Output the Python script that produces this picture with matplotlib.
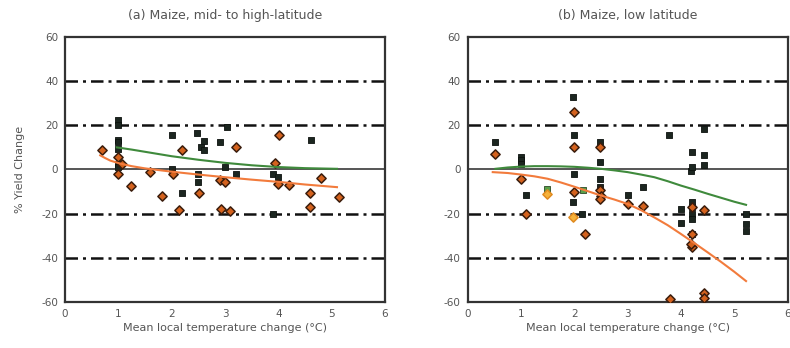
import matplotlib
matplotlib.use("Agg")
import matplotlib.pyplot as plt

plt.rcParams["axes.unicode_minus"] = False

# ---------------- Panel (a) data ----------------
a_sq_x = [0.99, 0.99, 1.0, 1.0, 1.0, 1.0, 1.0, 2.0, 2.0, 2.2, 2.48, 2.55, 2.6, 2.6, 2.5, 2.5,
          2.9, 3.03, 3.0, 3.2, 3.9, 4.0, 3.9, 4.62]
a_sq_y = [22.3, 20.0, 13.5, 12.4, 9.4, 2.6, 1.0, 15.5, 0.3, -10.8, 16.7, 10.0, 8.6, 13.0, -2.0, -5.8,
          12.4, 19.2, 1.0, -2.0, -2.0, -3.5, -20.0, 13.2]
a_di_x = [0.69, 1.0, 1.0, 1.07, 1.23, 1.6, 1.82, 2.03, 2.14, 2.2, 2.52, 2.9, 3.0, 2.92, 3.1, 3.2,
          3.93, 4.02, 4.0, 4.2, 4.6, 4.6, 4.8, 5.13]
a_di_y = [9.0, 5.6, -2.0, 2.6, -7.3, -1.2, -11.8, -2.0, -18.3, 8.6, -10.8, -4.7, -5.8, -17.9, -19.0, 10.1,
          2.9, 15.5, -6.5, -6.8, -10.8, -17.0, -3.8, -12.6]
a_green_x = [0.97, 1.25, 1.5, 1.75, 2.0, 2.5, 3.0, 3.5, 4.0, 4.5, 5.1]
a_green_y = [10.0, 9.0, 8.0, 7.0, 6.0, 4.4, 3.0, 1.9, 1.1, 0.6, 0.3]
a_orange_x = [0.66, 0.75, 0.85, 1.03, 1.25, 1.5, 2.0, 2.5, 3.0, 3.5, 4.0, 4.5, 5.1]
a_orange_y = [6.4, 5.2, 4.0, 2.7, 1.5, 0.5, -1.0, -2.3, -3.5, -4.6, -5.6, -6.8, -8.0]

# ---------------- Panel (b) data ----------------
b_sq_x = [0.52, 1.0, 1.0, 1.0, 1.1, 1.97, 2.0, 2.0, 1.98, 2.14, 2.48, 2.48, 2.48, 2.48,
          3.0, 3.28, 3.77, 4.0, 4.0, 4.21, 4.18, 4.2, 4.2, 4.2, 4.2, 4.2, 4.2, 4.43, 4.43, 4.43,
          5.22, 5.22, 5.22]
b_sq_y = [12.4, 5.6, 4.1, 2.6, -11.5, 32.9, 15.5, -2.0, -14.8, -20.0, 12.4, 3.3, -4.2, -8.0,
          -11.5, -8.0, 15.5, -17.9, -24.0, 7.9, -0.5, 1.0, -14.8, -17.0, -20.0, -22.4, -29.0, 18.5, 6.4, 1.8,
          -20.0, -24.7, -27.7]
b_di_x = [0.52, 1.0, 1.1, 2.0, 2.0, 2.0, 2.2, 2.48, 2.48, 2.5, 2.48, 3.0, 3.28, 3.8,
          4.2, 4.2, 4.18, 4.43, 4.43, 4.43, 4.2]
b_di_y = [6.8, -4.5, -20.0, 26.0, 10.2, -10.3, -29.2, 10.2, -9.5, -11.8, -13.3, -15.6, -16.7, -58.5,
          -29.2, -35.3, -33.8, -18.3, -55.8, -58.0, -17.0]
b_yel_x = [1.48, 1.97]
b_yel_y = [-11.0, -21.4]
b_gsq_x = [1.49, 2.16]
b_gsq_y = [-8.8, -9.5]
b_green_x = [0.52, 0.75, 1.0, 1.25, 1.5, 1.75, 2.0, 2.25, 2.5, 2.75, 3.0, 3.25, 3.5, 3.75,
             4.0, 4.25, 4.5, 4.75, 5.0, 5.22]
b_green_y = [0.3, 0.9, 1.3, 1.5, 1.5, 1.4, 1.2, 0.8, 0.3, -0.4, -1.2, -2.3, -3.5, -5.3,
             -7.3, -9.1, -11.0, -12.8, -14.6, -16.0]
b_orange_x = [0.47, 0.75, 1.0, 1.25, 1.5, 1.75, 2.0, 2.25, 2.5, 2.75, 3.0, 3.25, 3.5, 3.75,
              4.0, 4.25, 4.5, 4.75, 5.0, 5.22]
b_orange_y = [-1.2, -1.6, -2.3, -3.1, -4.2, -5.9, -7.8, -9.8, -11.8, -13.6, -15.6, -18.4, -21.7, -25.2,
              -29.2, -33.3, -37.5, -41.8, -46.3, -50.5]

xticks = [0, 1, 2, 3, 4, 5, 6]
yticks = [-60, -40, -20, 0, 20, 40, 60]
titles = ["(a) Maize, mid- to high-latitude", "(b) Maize, low latitude"]
xlabel = "Mean local temperature change (\u00b0C)"
ylabel = "% Yield Change"

SQ_C = "#1c2620"
OR_C = "#d4621e"
OR_E = "#3a1c0c"
GREEN = "#3f8a3c"
ORANGE = "#f27b3c"
TXT = "#555555"

fig = plt.figure(figsize=(7.9, 3.48), dpi=100)
ax_a = fig.add_axes([0.0823, 0.132, 0.405, 0.762])
ax_b = fig.add_axes([0.592, 0.132, 0.405, 0.762])


def style(ax, title):
    ax.set_xlim(0, 6)
    ax.set_ylim(-60, 60)
    ax.set_xticks(xticks)
    ax.set_yticks(yticks)
    ax.tick_params(length=0, labelsize=7.5, colors=TXT, pad=5)
    for s in ax.spines.values():
        s.set_linewidth(1.6)
        s.set_color("#333333")
    for yv in [-40, -20, 20, 40]:
        ax.axhline(yv, color="#111111", lw=1.8, ls=(0, (5, 2, 1.2, 2)), zorder=1)
    ax.axhline(0, color="#555555", lw=1.4, zorder=1)
    ax.set_title(title, fontsize=9, color=TXT, pad=13)
    ax.set_xlabel(xlabel, fontsize=8, color=TXT, labelpad=3)


style(ax_a, titles[0])
style(ax_b, titles[1])
ax_a.set_ylabel(ylabel, fontsize=8, color=TXT, labelpad=12)

# panel (a)
ax_a.scatter(a_sq_x, a_sq_y, marker="s", s=20, c=SQ_C, edgecolors="#0d120e", linewidths=0.6, zorder=3)
ax_a.scatter(a_di_x, a_di_y, marker="D", s=22, c=OR_C, edgecolors=OR_E, linewidths=1.1, zorder=4)
ax_a.plot(a_green_x, a_green_y, color=GREEN, lw=1.5, zorder=5)
ax_a.plot(a_orange_x, a_orange_y, color=ORANGE, lw=1.5, zorder=5)

# panel (b)
ax_b.scatter(b_sq_x, b_sq_y, marker="s", s=20, c=SQ_C, edgecolors="#0d120e", linewidths=0.6, zorder=3)
ax_b.scatter(b_di_x, b_di_y, marker="D", s=22, c=OR_C, edgecolors=OR_E, linewidths=1.1, zorder=4)
ax_b.scatter(b_gsq_x, b_gsq_y, marker="s", s=20, c="#5aa04a", edgecolors="#2b4a26", linewidths=0.6, zorder=4)
ax_b.scatter(b_yel_x, b_yel_y, marker="D", s=22, c="#f6b23a", edgecolors="#e08a20", linewidths=1.1, zorder=4)
ax_b.plot(b_green_x, b_green_y, color=GREEN, lw=1.5, zorder=5)
ax_b.plot(b_orange_x, b_orange_y, color=ORANGE, lw=1.5, zorder=5)

fig.savefig("out.png", dpi=100)
